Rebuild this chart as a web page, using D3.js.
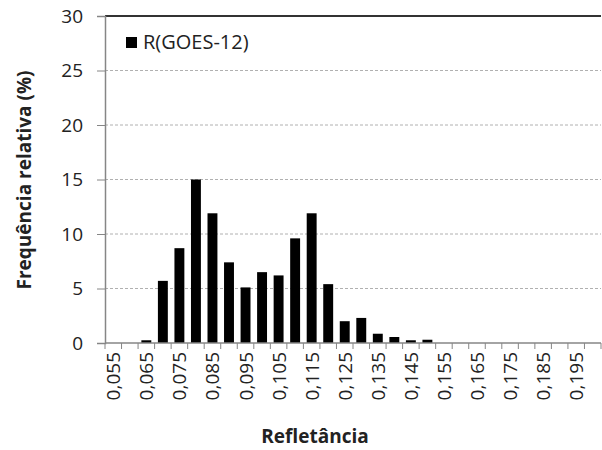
<!DOCTYPE html>
<html><head><meta charset="utf-8">
<script src="https://cdn.jsdelivr.net/npm/d3@7/dist/d3.min.js"></script>
<style>body{margin:0;background:#fff}svg{display:block;font-family:"Open Sans",sans-serif}</style>
</head><body><svg id="c" width="602" height="450"></svg>
<script>
const categories = ["0,055","0,060","0,065","0,070","0,075","0,080","0,085","0,090","0,095","0,100","0,105","0,110","0,115","0,120","0,125","0,130","0,135","0,140","0,145","0,150","0,155","0,160","0,165","0,170","0,175","0,180","0,185","0,190","0,195","0,200"];
const values = [0,0,0.25,5.7,8.7,15.0,11.9,7.4,5.1,6.5,6.2,9.6,11.9,5.4,2.0,2.3,0.85,0.55,0.25,0.3,0,0,0,0,0,0,0,0,0,0];
const yTicks = [0,5,10,15,20,25,30];
const seriesName = "R(GOES-12)";

const svg = d3.select("#c");
const L=105, R=601, T=16, B=343;
const x = d3.scaleBand().domain(categories).range([L,R]).paddingInner(0.4).paddingOuter(0.2);
const xb = d3.scaleLinear().domain([0,categories.length]).range([L,R]);
const y = d3.scaleLinear().domain([0,30]).range([B,T]);

// gridlines
svg.append("g").selectAll("line").data(yTicks.filter(d=>d>0&&d<30)).join("line")
  .attr("x1",L).attr("x2",R).attr("y1",d=>y(d)).attr("y2",d=>y(d))
  .attr("stroke","#b0b0b0").attr("stroke-width",1).attr("stroke-dasharray","3,2");
// top line
svg.append("line").attr("x1",L).attr("x2",R).attr("y1",y(30)).attr("y2",y(30))
  .attr("stroke","#333").attr("stroke-width",2);

// bars
svg.append("g").selectAll("rect").data(values.map((v,i)=>({c:categories[i],v}))).join("rect")
  .attr("x",d=>x(d.c)).attr("width",x.bandwidth())
  .attr("y",d=>y(d.v)).attr("height",d=>B-y(d.v)).attr("fill","#000");

// y axis
const ya = svg.append("g").attr("transform",`translate(${L},0)`)
  .call(d3.axisLeft(y).tickValues(yTicks).tickSize(8).tickPadding(14).tickFormat(d3.format("d")));
ya.select(".domain").attr("stroke","#868686").attr("stroke-width",1.5);
ya.selectAll(".tick line").attr("stroke","#868686");
ya.selectAll("text").attr("font-size",19).attr("fill","#222").attr("font-family","Open Sans");

// x axis
const xa = svg.append("g").attr("transform",`translate(0,${B})`);
xa.append("line").attr("x1",L).attr("x2",R).attr("stroke","#868686").attr("stroke-width",1.5);
xa.selectAll(".xt").data(d3.range(categories.length+1)).join("line").attr("class","xt")
  .attr("x1",d=>xb(d)).attr("x2",d=>xb(d)).attr("y1",0).attr("y2",6).attr("stroke","#868686");
xa.selectAll(".xl").data(categories.filter((c,i)=>i%2===0 && i<29)).join("text").attr("class","xl")
  .attr("transform",d=>`translate(${x(d)+x.bandwidth()/2+7},9) rotate(-90)`)
  .attr("text-anchor","end").attr("font-size",19).attr("fill","#222").text(d=>d);

// axis titles
svg.append("text").attr("transform","translate(31,180) rotate(-90)").attr("text-anchor","middle")
  .attr("font-size",19).attr("font-weight","bold").attr("fill","#222").text("Frequência  relativa  (%)");
svg.append("text").attr("x",315).attr("y",443).attr("text-anchor","middle")
  .attr("font-size",19).attr("font-weight","bold").attr("fill","#222").text("Refletância");

// legend
svg.append("rect").attr("x",126).attr("y",37).attr("width",11).attr("height",11).attr("fill","#000");
svg.append("text").attr("x",143).attr("y",49).attr("font-size",20).attr("fill","#222").text(seriesName);
</script></body></html>
